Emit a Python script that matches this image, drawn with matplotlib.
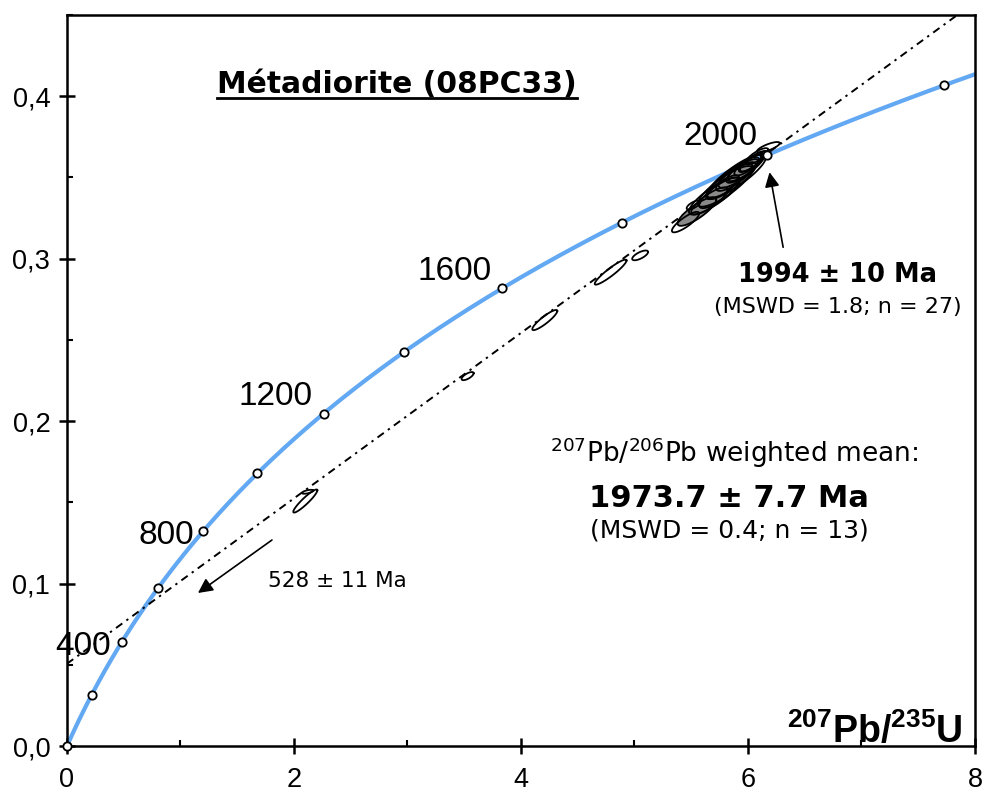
import numpy as np
import matplotlib
matplotlib.use("Agg")
import matplotlib.pyplot as plt
from matplotlib.lines import Line2D
from matplotlib.ticker import MultipleLocator, FuncFormatter

plt.rcParams['mathtext.fontset'] = 'custom'
plt.rcParams['mathtext.rm'] = 'DejaVu Sans'
plt.rcParams['mathtext.bf'] = 'Liberation Sans:bold'

# U decay constants (1/yr)
L238 = 1.55125e-10
L235 = 9.8485e-10

# concordia age marks (Ma) and the ones that get a label
mark_ages = [0, 200, 400, 600, 800, 1000, 1200, 1400, 1600, 1800, 2000, 2200]
label_ages = [400, 800, 1200, 1600, 2000]
label_pos = [(0.145, 0.056), (0.872, 0.1243), (1.841, 0.2098), (3.419, 0.2868), (5.753, 0.3698)]

# discordia intercepts (Ma)
lower_age = 528
upper_age = 1994

# zircon spots: 207Pb/235U, 206Pb/238U, 2s half-widths, error correlation
ell_x = [2.10, 2.12, 3.53, 4.21, 4.79, 5.05,
         5.45, 5.55, 5.52, 5.66, 5.70, 5.75, 5.78, 5.80, 5.85, 5.88,
         5.90, 5.92, 5.95, 5.98, 6.00, 6.02, 6.05, 6.08, 6.18]
ell_y = [0.1508, 0.1565, 0.2277, 0.2622, 0.2917, 0.3020,
         0.3225, 0.3290, 0.3330, 0.3355, 0.3385, 0.3405, 0.3440, 0.3445, 0.3480, 0.3500,
         0.3510, 0.3530, 0.3540, 0.3560, 0.3575, 0.3585, 0.3600, 0.3630, 0.3686]
ell_sx = [0.106, 0.05, 0.053, 0.11, 0.14, 0.07,
          0.12, 0.17, 0.06, 0.16, 0.22, 0.18, 0.14, 0.24, 0.22, 0.16,
          0.26, 0.18, 0.14, 0.16, 0.12, 0.10, 0.12, 0.10, 0.10]
ell_sy = [0.0071, 0.0012, 0.0025, 0.0062, 0.0077, 0.0030,
          0.0063, 0.0088, 0.0028, 0.0083, 0.0114, 0.0094, 0.0073, 0.0125, 0.0114, 0.0083,
          0.0135, 0.0094, 0.0073, 0.0083, 0.0063, 0.0052, 0.0063, 0.0050, 0.0032]
ell_rho = [0.93, 0.60, 0.70, 0.90, 0.93, 0.70,
           0.84, 0.83, 0.70, 0.82, 0.84, 0.81, 0.80, 0.85, 0.84, 0.81,
           0.86, 0.82, 0.81, 0.83, 0.80, 0.80, 0.82, 0.78, 0.78]
ell_grey = [0, 0, 0, 0, 0, 0,
            0, 1, 0, 0, 0, 1, 0, 0, 1, 0,
            0, 0, 1, 0, 0, 0, 0, 0, 0]


def concordia(age_ma):
    t = np.asarray(age_ma, dtype=float) * 1e6
    return np.exp(L235 * t) - 1, np.exp(L238 * t) - 1


fig = plt.figure(figsize=(9.85, 7.96), dpi=100)
ax = fig.add_axes([0.068, 0.0628, 0.9218, 0.9184])
ax.set_xlim(0, 8)
ax.set_ylim(0, 0.45)

# concordia curve
cx, cy = concordia(np.linspace(0, 2300, 500))
ax.plot(cx, cy, color='#62a8f3', lw=3.0, zorder=2, solid_capstyle='butt')

# discordia through both intercepts
(x0, x1), (y0, y1) = concordia([lower_age, upper_age])
slope = (y1 - y0) / (x1 - x0)
lx = np.array([0, 8])
ax.plot(lx, y0 + slope * (lx - x0), color='black', lw=1.4,
        linestyle=(0, (4, 2.6, 1.2, 2.6)), zorder=3)

# error ellipses
th = np.linspace(0, 2 * np.pi, 120)
for x, y, sx, sy, r, g in zip(ell_x, ell_y, ell_sx, ell_sy, ell_rho, ell_grey):
    ex = x + sx * np.cos(th)
    ey = y + sy * (r * np.cos(th) + np.sqrt(1 - r ** 2) * np.sin(th))
    if g:
        ax.fill(ex, ey, color='#8a8a8a', zorder=4, lw=0)
    ax.plot(ex, ey, color='black', lw=1.3, zorder=5)

# age marks
mx, my = concordia(mark_ages)
ax.plot(mx, my, 'o', ms=6, mfc='white', mec='black', mew=1.3, zorder=6, clip_on=False)

for age, (tx, ty) in zip(label_ages, label_pos):
    ax.text(tx, ty, str(age), fontsize=24, family='Liberation Sans',
            ha='center', va='baseline', zorder=7)

# annotations
title = ax.text(2.907, 0.4018, 'Métadiorite (08PC33)', fontsize=21.4, fontweight='bold',
                family='DejaVu Sans', ha='center', va='baseline')

ax.text(6.793, 0.2855, '1994 ± 10 Ma', fontsize=18.5, fontweight='bold',
        family='DejaVu Sans', ha='center', va='baseline')
ax.text(6.79, 0.2665, '(MSWD = 1.8; n = 27)', fontsize=16,
        family='DejaVu Sans', ha='center', va='baseline')

ax.text(5.877, 0.1748, r'$^{207}$Pb/$^{206}$Pb weighted mean:', fontsize=19,
        family='DejaVu Sans', ha='center', va='baseline')
ax.text(5.83, 0.1471, '1973.7 ± 7.7 Ma', fontsize=22, fontweight='bold',
        family='DejaVu Sans', ha='center', va='baseline')
ax.text(5.84, 0.1286, '(MSWD = 0.4; n = 13)', fontsize=18,
        family='DejaVu Sans', ha='center', va='baseline')

ax.text(2.38, 0.0978, '528 ± 11 Ma', fontsize=15.5,
        family='DejaVu Sans', ha='center', va='baseline')

ax.text(7.894, 0.0018, r'$\mathbf{^{207}Pb/^{235}U}$', fontsize=27,
        ha='right', va='baseline')

arrow = dict(arrowstyle='-|>', mutation_scale=22, lw=1.2, color='black',
             shrinkA=0, shrinkB=0)
ax.annotate('', xy=(6.19, 0.3532), xytext=(6.31, 0.307), arrowprops=arrow)
ax.annotate('', xy=(1.154, 0.0942), xytext=(1.806, 0.1268), arrowprops=arrow)

# axes styling
for s in ax.spines.values():
    s.set_linewidth(1.8)
ax.xaxis.set_major_locator(MultipleLocator(2))
ax.xaxis.set_minor_locator(MultipleLocator(1))
ax.yaxis.set_major_locator(MultipleLocator(0.1))
ax.yaxis.set_minor_locator(MultipleLocator(0.05))
ax.xaxis.set_major_formatter(FuncFormatter(lambda v, p: f'{v:.0f}'))
ax.yaxis.set_major_formatter(FuncFormatter(lambda v, p: f'{v:.1f}'.replace('.', ',')))
ax.tick_params(which='major', direction='inout', length=12, width=1.8,
               labelsize=19.5)
ax.tick_params(axis='x', which='major', pad=9)
ax.tick_params(axis='y', which='major', pad=6)
ax.tick_params(which='minor', direction='in', length=4.5, width=1.5)
for lab in ax.get_xticklabels() + ax.get_yticklabels():
    lab.set_family('Liberation Sans')

# underline the sample name
fig.canvas.draw()
bb = title.get_window_extent(fig.canvas.get_renderer())
inv = fig.transFigure.inverted()
(ux0, uy), (ux1, _) = inv.transform([(bb.x0, bb.y0 + 1), (bb.x1, bb.y0 + 1)])
fig.add_artist(Line2D([ux0, ux1], [uy, uy], color='black', lw=2.0,
                      transform=fig.transFigure))

fig.savefig('out.png', dpi=100)
